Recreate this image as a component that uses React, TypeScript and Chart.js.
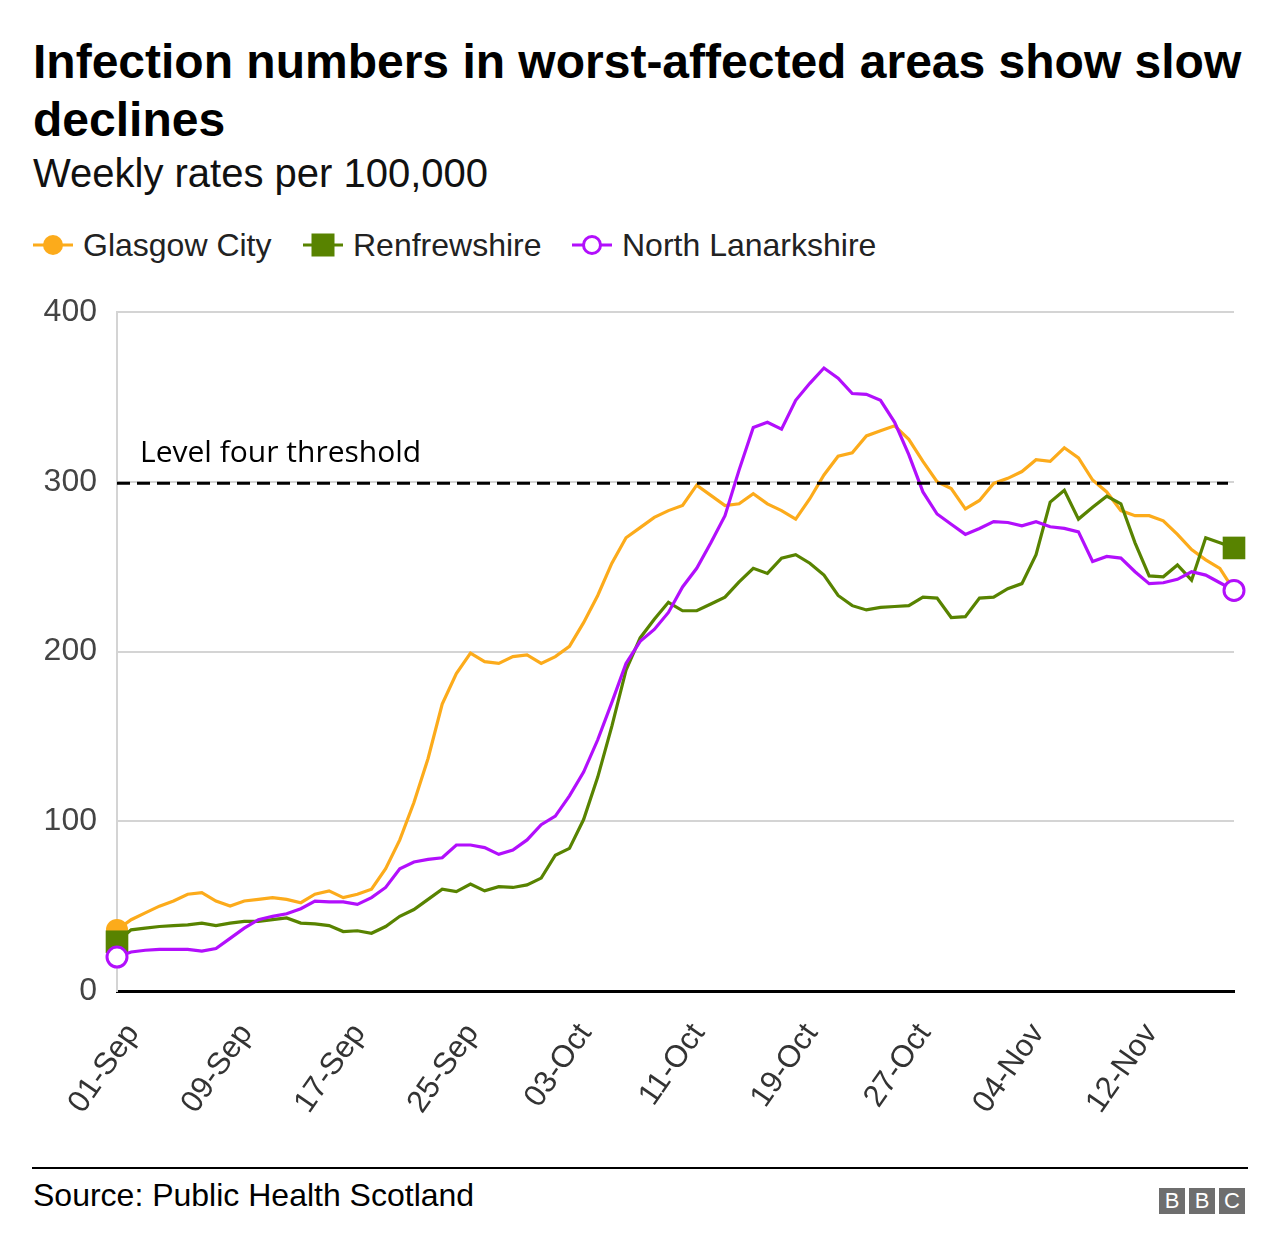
import React, { useEffect, useRef } from "react";
import { Chart, registerables } from "chart.js";

Chart.register(...registerables);

const dates = [
  "01-Sep","02-Sep","03-Sep","04-Sep","05-Sep","06-Sep","07-Sep","08-Sep","09-Sep","10-Sep",
  "11-Sep","12-Sep","13-Sep","14-Sep","15-Sep","16-Sep","17-Sep","18-Sep","19-Sep","20-Sep",
  "21-Sep","22-Sep","23-Sep","24-Sep","25-Sep","26-Sep","27-Sep","28-Sep","29-Sep","30-Sep",
  "01-Oct","02-Oct","03-Oct","04-Oct","05-Oct","06-Oct","07-Oct","08-Oct","09-Oct","10-Oct",
  "11-Oct","12-Oct","13-Oct","14-Oct","15-Oct","16-Oct","17-Oct","18-Oct","19-Oct","20-Oct",
  "21-Oct","22-Oct","23-Oct","24-Oct","25-Oct","26-Oct","27-Oct","28-Oct","29-Oct","30-Oct",
  "31-Oct","01-Nov","02-Nov","03-Nov","04-Nov","05-Nov","06-Nov","07-Nov","08-Nov","09-Nov",
  "10-Nov","11-Nov","12-Nov","13-Nov","14-Nov","15-Nov","16-Nov","17-Nov","18-Nov","19-Nov",
];

const xTickLabels = ["01-Sep","09-Sep","17-Sep","25-Sep","03-Oct","11-Oct","19-Oct","27-Oct","04-Nov","12-Nov"];

const glasgowCity = [
  36, 42, 46, 50, 53, 57, 58, 53, 50, 53,
  54, 55, 54, 52, 57, 59, 55, 57, 60, 72,
  89, 111, 137, 169, 187, 199, 194, 193, 197, 198,
  193, 197, 203, 217, 233, 252, 267, 273, 279, 283,
  286, 298, 292, 286, 287, 293, 287, 283, 278, 290,
  304, 315, 317, 327, 330, 333, 325, 312, 300, 296,
  284, 289, 299, 302, 306, 313, 312, 320, 314, 301,
  294, 283, 280, 280, 277, 269, 260, 254, 249, 236,
];

const renfrewshire = [
  29, 36, 37, 38, 38.5, 39, 40, 38.5, 40, 41,
  41, 42, 43, 40, 39.5, 38.5, 35, 35.5, 34, 38,
  44, 48, 54, 60, 58.5, 63, 59, 61.5, 61, 62.5,
  66.5, 80, 84, 101, 126, 156, 189, 208, 219, 229,
  224, 224, 228, 232, 241, 249, 246, 255, 257, 252,
  245, 233, 227, 224.5, 226, 226.5, 227, 232, 231.5, 220,
  220.5, 231.5, 232, 237, 240, 257, 288, 295, 278, 285,
  291.5, 287, 264, 244.5, 244, 251, 242, 267, 264, 261,
];

const northLanarkshire = [
  20, 23, 24, 24.5, 24.5, 24.5, 23.5, 25, 31, 37,
  42, 44, 45.5, 48.5, 53, 52.5, 52.5, 51, 55, 61,
  72, 76, 77.5, 78.5, 86, 86, 84.5, 80.5, 83, 89,
  98, 103, 115, 129, 148, 170, 193, 206, 213, 223,
  238, 249, 264, 280, 307, 332, 335, 331, 348, 358,
  367, 361, 352, 351.5, 348, 335, 316, 294, 281, 275,
  269, 272.5, 276.5, 276, 274, 276.5, 273.5, 272.5, 270.5, 253,
  256, 255, 247, 240, 240.5, 242.5, 247, 245, 240.5, 236,
];

const seriesNames = ["Glasgow City", "Renfrewshire", "North Lanarkshire"];
const seriesColors = ["#fcab1b", "#588300", "#b20ffc"];

const yMin = 0;
const yMax = 400;
const yStep = 100;
const thresholdValue = 300;
const thresholdLabel = "Level four threshold";

const FONT = "'Liberation Sans', Arial, Helvetica, sans-serif";

const thresholdPlugin = {
  id: "threshold",
  afterDatasetsDraw(chart: any) {
    const { ctx, chartArea, scales } = chart;
    const y = scales.y.getPixelForValue(thresholdValue);
    ctx.save();
    ctx.strokeStyle = "#000";
    ctx.lineWidth = 3;
    ctx.setLineDash([13, 7]);
    ctx.beginPath();
    ctx.moveTo(chartArea.left, y + 1.5);
    ctx.lineTo(chartArea.right - 6, y + 1.5);
    ctx.stroke();
    ctx.setLineDash([]);
    ctx.fillStyle = "#000";
    ctx.font = "30px 'Open Sans', 'Noto Sans', sans-serif";
    ctx.textAlign = "left";
    ctx.textBaseline = "middle";
    ctx.fillText(thresholdLabel, chartArea.left + 23, y - 28);
    ctx.restore();
  },
};

function endPointRadius(r: number) {
  return (ctx: any) => {
    const n = ctx.dataset.data.length;
    return ctx.dataIndex === 0 || ctx.dataIndex === n - 1 ? r : 0;
  };
}

function LegendMarker({ kind, color }: { kind: string; color: string }) {
  return (
    <svg width={40} height={30} style={{ display: "block" }}>
      <line x1={0} y1={15} x2={40} y2={15} stroke={color} strokeWidth={3} />
      {kind === "circle" && <circle cx={20} cy={15} r={10} fill={color} />}
      {kind === "rect" && <rect x={8.5} y={3.5} width={23} height={23} fill={color} />}
      {kind === "open" && <circle cx={20} cy={15} r={8.5} fill="#fff" stroke={color} strokeWidth={3} />}
    </svg>
  );
}

export default function App() {
  const canvasRef = useRef<HTMLCanvasElement | null>(null);

  useEffect(() => {
    const canvas = canvasRef.current;
    if (!canvas) return;
    const chart = new Chart(canvas, {
      type: "line",
      data: {
        labels: dates,
        datasets: [
          {
            label: seriesNames[0],
            data: glasgowCity,
            borderColor: seriesColors[0],
            backgroundColor: seriesColors[0],
            borderWidth: 3.2,
            pointStyle: "circle",
            pointRadius: endPointRadius(11),
            pointHoverRadius: 0,
            pointBackgroundColor: seriesColors[0],
            pointBorderColor: seriesColors[0],
            pointBorderWidth: 0,
            tension: 0,
            order: 2,
          },
          {
            label: seriesNames[1],
            data: renfrewshire,
            borderColor: seriesColors[1],
            backgroundColor: seriesColors[1],
            borderWidth: 3.2,
            pointStyle: "rect",
            pointRadius: endPointRadius(16),
            pointHoverRadius: 0,
            pointBackgroundColor: seriesColors[1],
            pointBorderColor: seriesColors[1],
            pointBorderWidth: 0,
            tension: 0,
            order: 1,
          },
          {
            label: seriesNames[2],
            data: northLanarkshire,
            borderColor: seriesColors[2],
            backgroundColor: "#fff",
            borderWidth: 3.2,
            pointStyle: "circle",
            pointRadius: endPointRadius(10),
            pointHoverRadius: 0,
            pointBackgroundColor: "#fff",
            pointBorderColor: seriesColors[2],
            pointBorderWidth: 3,
            tension: 0,
            order: 0,
          },
        ],
      },
      options: {
        responsive: false,
        animation: false,
        devicePixelRatio: 1,
        layout: { padding: { top: 32, right: 46, bottom: 0, left: 0 } },
        plugins: {
          legend: { display: false },
          tooltip: { enabled: false },
          title: { display: false },
        },
        scales: {
          x: {
            type: "category",
            offset: false,
            grid: { display: false, drawTicks: false },
            border: { display: true, color: "#000", width: 3 },
            ticks: {
              autoSkip: false,
              maxRotation: 55,
              minRotation: 55,
              padding: 26,
              labelOffset: 16,
              color: "#333",
              font: { family: FONT, size: 31 },
              callback: (_v: any, i: number) => (xTickLabels.includes(dates[i]) ? dates[i] : ""),
            },
            afterFit: (s: any) => {
              s.height = 159;
              s.paddingLeft = 0;
              s.paddingRight = 0;
            },
          },
          y: {
            min: yMin,
            max: yMax,
            grid: {
              drawTicks: false,
              color: (c: any) => (c.tick && c.tick.value === 0 ? "rgba(0,0,0,0)" : "#d4d4d4"),
              lineWidth: 2,
            },
            border: { display: true, color: "#d4d4d4", width: 2 },
            ticks: {
              stepSize: yStep,
              padding: 20,
              color: "#444",
              font: { family: FONT, size: 32 },
            },
            afterFit: (s: any) => {
              s.width = 117;
              s.paddingTop = 0;
              s.paddingBottom = 0;
            },
          },
        },
      },
      plugins: [thresholdPlugin],
    });
    return () => chart.destroy();
  }, []);

  const legendItems = [
    { name: seriesNames[0], kind: "circle", color: seriesColors[0], x: 33 },
    { name: seriesNames[1], kind: "rect", color: seriesColors[1], x: 303 },
    { name: seriesNames[2], kind: "open", color: seriesColors[2], x: 572 },
  ];

  return (
    <div style={{ position: "absolute", left: 0, top: 0, width: 1280, height: 1256, background: "#fff", fontFamily: FONT }}>
      <div style={{ position: "absolute", left: 33, top: 33, width: 1240, fontSize: 48, fontWeight: "bold", lineHeight: "58px", color: "#000" }}>
        Infection numbers in worst-affected areas show slow declines
      </div>
      <div style={{ position: "absolute", left: 33, top: 150, fontSize: 40, lineHeight: "46px", color: "#111" }}>
        Weekly rates per 100,000
      </div>
      {legendItems.map((it) => (
        <div key={it.name} style={{ position: "absolute", left: it.x, top: 230, height: 30, display: "flex", alignItems: "center" }}>
          <LegendMarker kind={it.kind} color={it.color} />
          <span style={{ marginLeft: 10, fontSize: 32, color: "#222", lineHeight: "30px", whiteSpace: "nowrap" }}>{it.name}</span>
        </div>
      ))}
      <canvas ref={canvasRef} width={1280} height={870} style={{ position: "absolute", left: 0, top: 280, width: 1280, height: 870 }} />
      <div style={{ position: "absolute", left: 32, top: 1167, width: 1216, height: 2, background: "#000" }} />
      <div style={{ position: "absolute", left: 33, top: 1176, fontSize: 32, lineHeight: "38px", color: "#000" }}>
        Source: Public Health Scotland
      </div>
      <div style={{ position: "absolute", left: 1159, top: 1188, display: "flex" }}>
        {["B", "B", "C"].map((l, i) => (
          <div key={i} style={{ width: 26, height: 26, marginLeft: i === 0 ? 0 : 4, background: "#6e6e6e", color: "#fff", fontSize: 22, lineHeight: "26px", textAlign: "center", fontWeight: "normal" }}>
            {l}
          </div>
        ))}
      </div>
    </div>
  );
}
